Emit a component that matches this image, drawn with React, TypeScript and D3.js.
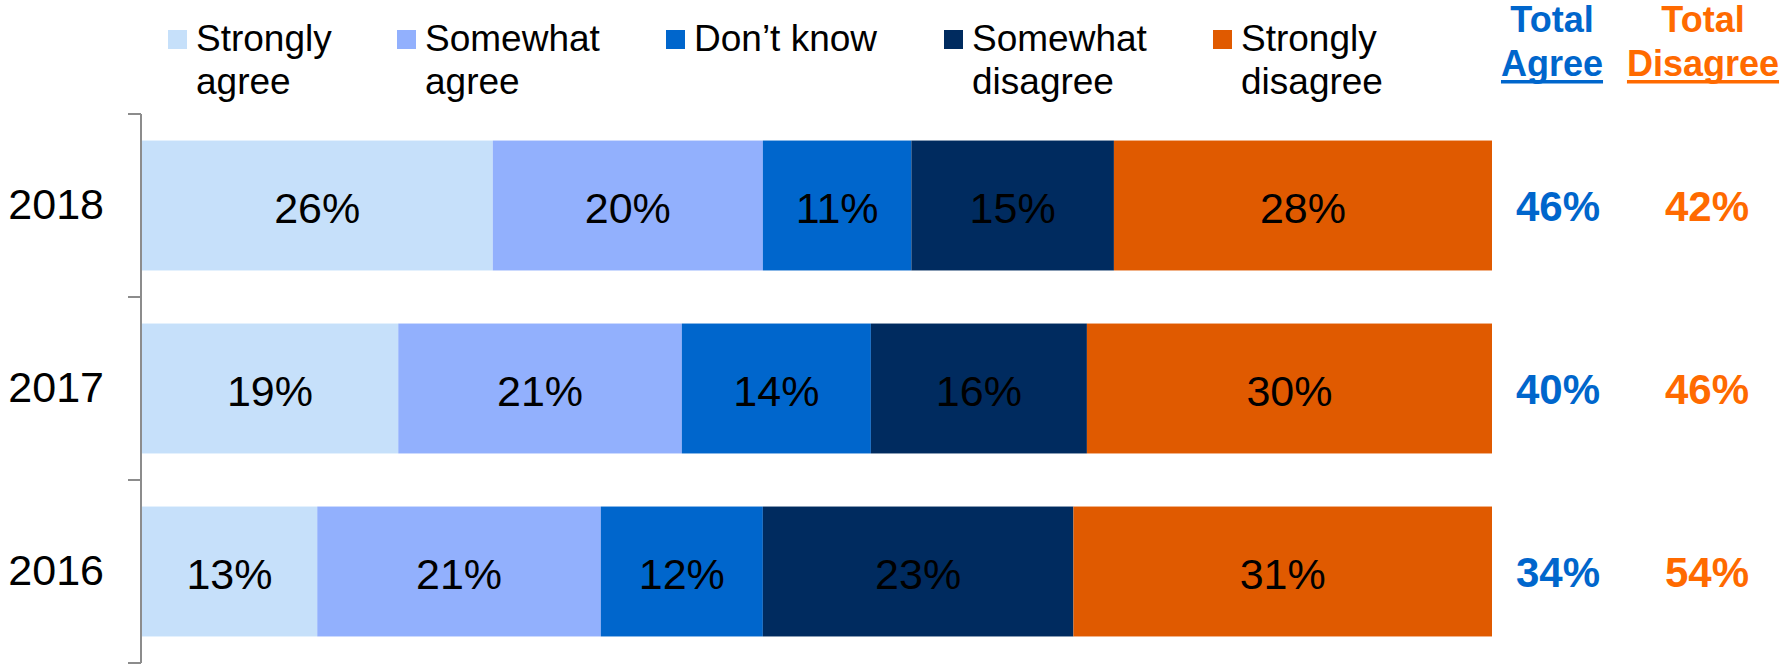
import React, { useEffect, useRef } from 'react'
import * as d3 from 'd3'

// survey years, top to bottom
const years = ['2018', '2017', '2016']
const categories = ['Strongly agree', 'Somewhat agree', "Don\u2019t know", 'Somewhat disagree', 'Strongly disagree']
const legendLines = [['Strongly', 'agree'], ['Somewhat', 'agree'], ["Don\u2019t know"], ['Somewhat', 'disagree'], ['Strongly', 'disagree']]
const stronglyAgree = [26, 19, 13]
const somewhatAgree = [20, 21, 21]
const dontKnow = [11, 14, 12]
const somewhatDisagree = [15, 16, 23]
const stronglyDisagree = [28, 30, 31]
const totalAgree = [46, 40, 34]
const totalDisagree = [42, 46, 54]

const colors = ['#c6e0fa', '#92b0fd', '#0066cc', '#002b5f', '#e05a00']
const agreeColor = '#0066cc'
const disagreeColor = '#ff6a00'

export default function App() {
    const ref = useRef<SVGSVGElement | null>(null)

    const width = 1790
    const height = 665
    const font = "'Liberation Sans', Arial, sans-serif"

    function draw() {
        var svg = d3.select(ref.current)
        svg.selectAll('*').remove()

        var series = [stronglyAgree, somewhatAgree, dontKnow, somewhatDisagree, stronglyDisagree]
        var rows = years.map(function (yr, i) {
            var row: any = { year: yr }
            categories.forEach(function (c, j) { row[c] = series[j][i] })
            return row
        })
        var stacked = d3.stack().keys(categories)(rows)

        var x = d3.scaleLinear().domain([0, 100]).range([141.7, 1492])
        var y = d3.scaleBand().domain(years).range([114, 663])
            .paddingInner(0.29).paddingOuter(0.145)

        // bars
        var layer = svg.append('g').selectAll('g')
            .data(stacked)
            .enter().append('g')
            .attr('fill', function (d, i) { return colors[i] })

        layer.selectAll('rect')
            .data(function (d: any) { return d })
            .enter().append('rect')
            .attr('x', function (d: any) { return x(d[0]) })
            .attr('width', function (d: any) { return x(d[1]) - x(d[0]) })
            .attr('y', function (d: any) { return y(d.data.year) as number })
            .attr('height', y.bandwidth())

        layer.selectAll('text')
            .data(function (d: any) { return d })
            .enter().append('text')
            .attr('x', function (d: any) { return (x(d[0]) + x(d[1])) / 2 })
            .attr('y', function (d: any) { return (y(d.data.year) as number) + y.bandwidth() / 2 + 2 })
            .attr('dy', '0.36em')
            .attr('text-anchor', 'middle')
            .attr('fill', '#000')
            .style('font-family', font)
            .style('font-size', '43px')
            .text(function (d: any) { return Math.round(d[1] - d[0]) + '%' })

        // category axis
        var axis = svg.append('g').attr('stroke', '#8c8c8c').attr('stroke-width', 2)
        var step = y.step()
        var top = y.range()[0]
        axis.append('line')
            .attr('x1', 141).attr('x2', 141)
            .attr('y1', top).attr('y2', top + step * years.length)
        d3.range(years.length + 1).forEach(function (i) {
            axis.append('line')
                .attr('x1', 128).attr('x2', 141)
                .attr('y1', top + step * i).attr('y2', top + step * i)
        })

        svg.append('g').selectAll('text')
            .data(years)
            .enter().append('text')
            .attr('x', 104)
            .attr('y', function (d) { return (y(d) as number) + y.bandwidth() / 2 - 2 })
            .attr('dy', '0.36em')
            .attr('text-anchor', 'end')
            .style('font-family', font)
            .style('font-size', '43px')
            .text(function (d) { return d })

        // totals
        var totals = [
            { vals: totalAgree, color: agreeColor, cx: 1558 },
            { vals: totalDisagree, color: disagreeColor, cx: 1707 }
        ]
        totals.forEach(function (t) {
            svg.append('g').selectAll('text')
                .data(t.vals)
                .enter().append('text')
                .attr('x', t.cx)
                .attr('y', function (d, i) { return (y(years[i]) as number) + y.bandwidth() / 2 })
                .attr('dy', '0.36em')
                .attr('text-anchor', 'middle')
                .attr('fill', t.color)
                .style('font-family', font)
                .style('font-size', '42px')
                .style('font-weight', 'bold')
                .text(function (d) { return d + '%' })
        })

        // legend
        var legendX = [168, 397, 666, 944, 1213]
        var legend = svg.append('g').selectAll('g')
            .data(categories)
            .enter().append('g')
            .attr('transform', function (d, i) { return 'translate(' + legendX[i] + ',0)' })
        legend.append('rect')
            .attr('x', 0).attr('y', 30)
            .attr('width', 19).attr('height', 19)
            .attr('fill', function (d, i) { return colors[i] })
        legend.each(function (d, i) {
            var t = d3.select(this).append('text')
                .style('font-family', font)
                .style('font-size', '37px')
            legendLines[i].forEach(function (line, k) {
                t.append('tspan').attr('x', 28).attr('y', 51 + k * 43).text(line)
            })
        })

        // total headers
        var heads = [
            { label: 'Agree', color: agreeColor, cx: 1552 },
            { label: 'Disagree', color: disagreeColor, cx: 1703 }
        ]
        heads.forEach(function (h) {
            var g = svg.append('g')
            g.append('text')
                .attr('x', h.cx).attr('y', 32)
                .attr('text-anchor', 'middle')
                .attr('fill', h.color)
                .style('font-family', font)
                .style('font-size', '36px')
                .style('font-weight', 'bold')
                .text('Total')
            var second = g.append('text')
                .attr('x', h.cx).attr('y', 76)
                .attr('text-anchor', 'middle')
                .attr('fill', h.color)
                .style('font-family', font)
                .style('font-size', '36px')
                .style('font-weight', 'bold')
                .text(h.label)
            var node = second.node() as SVGTextElement
            var w = node.getComputedTextLength()
            g.append('rect')
                .attr('x', h.cx - w / 2).attr('y', 80)
                .attr('width', w).attr('height', 3.5)
                .attr('fill', h.color)
        })
    }

    useEffect(() => {
        draw()
    }, [])

    return (
        <div style={{ position: 'absolute', left: 0, top: 0 }}>
            <svg ref={ref} width={width} height={height} style={{ display: 'block', background: '#fff' }} />
        </div>
    )
}
